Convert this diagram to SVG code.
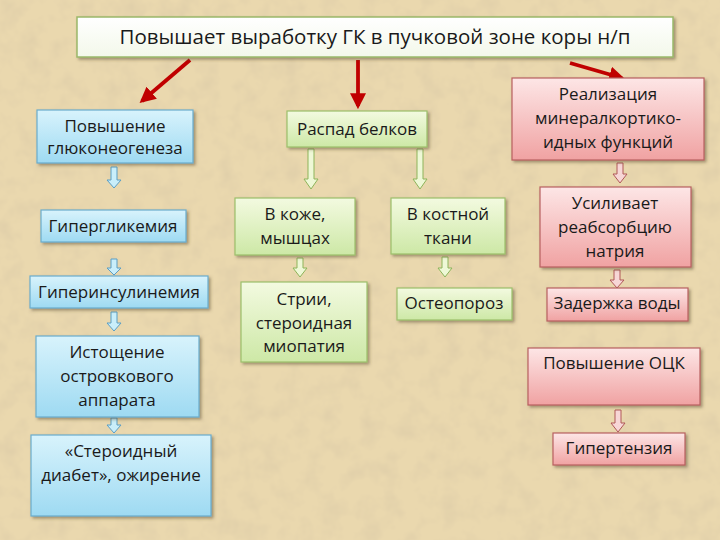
<svg xmlns="http://www.w3.org/2000/svg" width="720" height="540" viewBox="0 0 720 540">
<defs>
<linearGradient id="gBlue" x1="0" y1="0" x2="0" y2="1"><stop offset="0" stop-color="#d8f3fc"/><stop offset="1" stop-color="#9edaf2"/></linearGradient>
<linearGradient id="gGreen" x1="0" y1="0" x2="0" y2="1"><stop offset="0" stop-color="#f3fae0"/><stop offset="1" stop-color="#cde8a6"/></linearGradient>
<linearGradient id="gPink" x1="0" y1="0" x2="0" y2="1"><stop offset="0" stop-color="#fde6e6"/><stop offset="1" stop-color="#f0a2a2"/></linearGradient>
<linearGradient id="gTop" x1="0" y1="0" x2="0" y2="1"><stop offset="0" stop-color="#ffffff"/><stop offset="1" stop-color="#f3f8ea"/></linearGradient>
<filter id="sh" x="-10%" y="-10%" width="130%" height="140%"><feDropShadow dx="2" dy="2" stdDeviation="1.5" flood-color="#5a4a30" flood-opacity="0.5"/></filter>
<filter id="tex" x="0" y="0" width="100%" height="100%"><feTurbulence type="fractalNoise" baseFrequency="0.05" numOctaves="3" seed="4"/><feColorMatrix type="matrix" values="0 0 0 0 0.6  0 0 0 0 0.5  0 0 0 0 0.35  0 0 0 -0.6 0.35"/></filter>
<marker id="ah" viewBox="0 0 10 10" refX="8" refY="5" markerWidth="4.2" markerHeight="4.2" orient="auto" markerUnits="strokeWidth"><path d="M0,0 L10,5 L0,10 Z" fill="#c00000"/></marker>
</defs>
<style>
.t{font-family:"Open Sans","Liberation Sans",sans-serif;font-size:17px;fill:#1a1a1a;text-anchor:middle}
.tt{font-family:"Open Sans","Liberation Sans",sans-serif;font-size:20.5px;fill:#1a1a1a;text-anchor:middle}
.b{fill:url(#gBlue);stroke:#6aaccc;stroke-width:1.2;filter:url(#sh)}
.g{fill:url(#gGreen);stroke:#9cbf6a;stroke-width:1.2;filter:url(#sh)}
.p{fill:url(#gPink);stroke:#b86060;stroke-width:1.2;filter:url(#sh)}
.top{fill:url(#gTop);stroke:#9ab86a;stroke-width:1.5;filter:url(#sh)}
.ab{fill:#c9eefa;stroke:#5b9ec4;stroke-width:1}
.ag{fill:#eef8d6;stroke:#8db45a;stroke-width:1}
.ap{fill:#f7d6d6;stroke:#b05858;stroke-width:1}
.red{stroke:#c00000;stroke-width:3.8;fill:none;marker-end:url(#ah)}
</style>
<rect width="720" height="540" fill="#ead8ae"/>
<rect width="720" height="540" filter="url(#tex)"/>

<g id="connectors">
<line class="red" x1="190" y1="60" x2="142" y2="101"/>
<line class="red" x1="358" y1="60" x2="358" y2="106"/>
<line class="red" x1="570" y1="63" x2="622" y2="78"/>
<path class="ab" d="M111,167 H117 V180 H121 L114,188 L107,180 H111 Z"/>
<path class="ab" d="M111,259 H117 V268 H121 L114,275 L107,268 H111 Z"/>
<path class="ab" d="M111,312 H117 V323 H121 L114,331 L107,323 H111 Z"/>
<path class="ab" d="M111,418 H117 V425 H121 L114,433 L107,425 H111 Z"/>
<path class="ag" d="M308,149 H314 V179 H318 L311,189 L304,179 H308 Z"/>
<path class="ag" d="M417,149 H423 V179 H427 L420,189 L413,179 H417 Z"/>
<path class="ag" d="M297,258 H303 V268 H307 L300,277 L293,268 H297 Z"/>
<path class="ag" d="M442,257 H448 V268 H452 L445,277 L438,268 H442 Z"/>
<path class="ap" d="M617,163 H623 V174 H627 L620,183 L613,174 H617 Z"/>
<path class="ap" d="M614,270 H620 V280 H624 L617,288 L610,280 H614 Z"/>
<path class="ap" d="M615,410 H621 V423 H625 L618,432 L611,423 H615 Z"/>
</g>

<g id="n-top"><rect class="top" x="77" y="17" width="596" height="40"/><text class="tt" x="375" y="44">Повышает выработку ГК в пучковой зоне коры н/п</text></g>

<g id="n-gluco"><rect class="b" x="37" y="110" width="156" height="53"/><text class="t" x="115" y="132">Повышение</text><text class="t" x="115" y="154">глюконеогенеза</text></g>
<g id="n-hyperglyc"><rect class="b" x="41" y="210" width="145" height="32"/><text class="t" x="113" y="232">Гипергликемия</text></g>
<g id="n-hyperins"><rect class="b" x="30" y="276" width="178" height="32"/><text class="t" x="119" y="298">Гиперинсулинемия</text></g>
<g id="n-istosh"><rect class="b" x="36" y="336" width="163" height="81"/><text class="t" x="117" y="358">Истощение</text><text class="t" x="117" y="382">островкового</text><text class="t" x="117" y="406">аппарата</text></g>
<g id="n-diabet"><rect class="b" x="31" y="435" width="180" height="81"/><text class="t" x="121" y="457">«Стероидный</text><text class="t" x="121" y="481">диабет», ожирение</text></g>

<g id="n-raspad"><rect class="g" x="287" y="111" width="140" height="36"/><text class="t" x="357" y="135">Распад белков</text></g>
<g id="n-kozha"><rect class="g" x="235" y="198" width="120" height="57"/><text class="t" x="295" y="220">В коже,</text><text class="t" x="295" y="244">мышцах</text></g>
<g id="n-stria"><rect class="g" x="241" y="282" width="126" height="80"/><text class="t" x="304" y="305">Стрии,</text><text class="t" x="304" y="329">стероидная</text><text class="t" x="304" y="352">миопатия</text></g>
<g id="n-kost"><rect class="g" x="391" y="198" width="114" height="56"/><text class="t" x="448" y="220">В костной</text><text class="t" x="448" y="244">ткани</text></g>
<g id="n-osteo"><rect class="g" x="397" y="288" width="115" height="32"/><text class="t" x="454" y="309">Остеопороз</text></g>

<g id="n-real"><rect class="p" x="512" y="78" width="192" height="82"/><text class="t" x="608" y="100">Реализация</text><text class="t" x="608" y="124">минералкортико-</text><text class="t" x="608" y="148">идных функций</text></g>
<g id="n-reabs"><rect class="p" x="540" y="187" width="151" height="80"/><text class="t" x="615" y="209">Усиливает</text><text class="t" x="615" y="233">реабсорбцию</text><text class="t" x="615" y="257">натрия</text></g>
<g id="n-zader"><rect class="p" x="547" y="288" width="141" height="33"/><text class="t" x="617" y="309">Задержка воды</text></g>
<g id="n-ock"><rect class="p" x="528" y="348" width="172" height="57"/><text class="t" x="614" y="369">Повышение ОЦК</text></g>
<g id="n-gipert"><rect class="p" x="553" y="433" width="132" height="32"/><text class="t" x="619" y="454">Гипертензия</text></g>
</svg>
